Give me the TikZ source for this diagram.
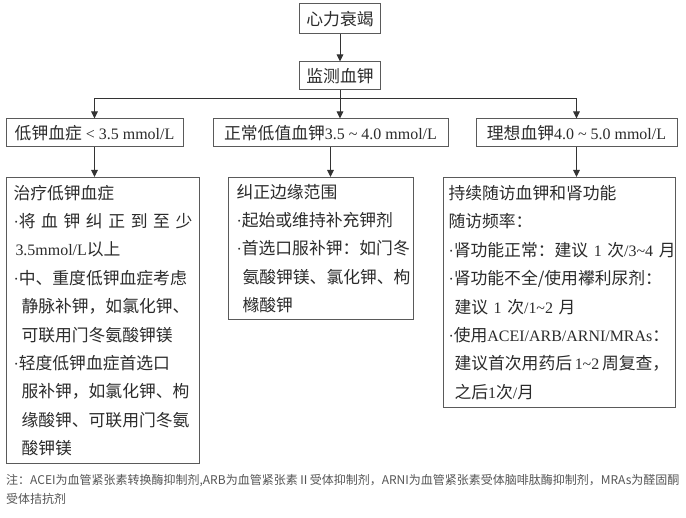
\documentclass[tikz,border=0pt]{standalone}
\usepackage{fontspec}
\setmainfont{Noto Sans CJK SC}
\newfontfamily\latfont[Scale=0.95]{Liberation Serif}
\newcommand{\lat}[1]{{\latfont #1}}
\newcommand{\bl}{{\latfont ·}}
\usetikzlibrary{arrows.meta, positioning}
\definecolor{hfline}{HTML}{333333}
\definecolor{hfbox}{HTML}{5A5A5A}
\definecolor{hftext}{HTML}{2B2B2B}
\definecolor{hfnote}{HTML}{555555}
\tikzset{
  >={Triangle[length=7pt, width=6.5pt]},
  box/.style={rectangle, draw=hfbox, line width=1pt, text=hftext,
              inner xsep=6.5pt, inner ysep=3pt, minimum height=28pt,
              font=\fontsize{16.8}{20}\selectfont},
  bigbox/.style={box, anchor=north west, align=left, inner xsep=7pt,
                 font=\fontsize{16.8}{28.4}\selectfont},
  flow/.style={->, line width=1pt, draw=hfline},
  note/.style={font=\fontsize{12}{19}\selectfont, text=hfnote, align=left, inner sep=0pt},
}

\begin{document}
\begin{tikzpicture}[x=1pt, y=-1pt]
  \path[use as bounding box, fill=white] (0,0) rectangle (686,518);

  % top of the chart
  \node[box, minimum width=80pt, minimum height=30pt] (hf) at (340,19) {心力衰竭};
  \node[box, minimum width=79pt, below=27pt of hf] (mon) {监测血钾};
  \draw[flow] (hf) -- (mon);

  % three ranges
  \node[box, minimum width=177pt] (low) at (94.5,133) {低钾血症\lat{~<~3.5~mmol/L}};
  \node[box, minimum width=235pt] (mid) at (330.5,133) {正常低值血钾\lat{3.5~\textasciitilde{}~4.0~mmol/L}};
  \node[box, minimum width=201pt] (ok) at (576.5,133) {理想血钾\lat{4.0~\textasciitilde{}~5.0~mmol/L}};
  \coordinate (split) at (340,99);
  \draw[flow] (mon.south) -- (mon.south |- mid.north);
  \draw[flow] (split) -| (low.north);
  \draw[flow] (split) -| (ok.north);

  % what to do
  \node[bigbox, text width=179pt, minimum width=193pt, minimum height=286pt] (lowdo) at (6,177)
    {治疗低钾血症\\
     \makebox[179pt][s]{\bl 将 血 钾 纠 正 到 至 少}\\
     \hspace*{2pt}\lat{3.5mmol/L}以上\\
     \bl 中、重度低钾血症考虑\\
     \hspace*{8pt}静脉补钾，如氯化钾、\\
     \hspace*{8pt}可联用门冬氨酸钾镁\\
     \bl 轻度低钾血症首选口\\
     \hspace*{8pt}服补钾，如氯化钾、枸\\
     \hspace*{8pt}缘酸钾、可联用门冬氨\\
     \hspace*{8pt}酸钾镁};
  \node[bigbox, inner xsep=8pt, text width=169pt, minimum width=185pt, minimum height=142pt] (middo) at (228,177)
    {纠正边缘范围\\
     \bl 起始或维持补充钾剂\\
     \bl 首选口服补钾：如门冬\\
     \hspace*{6pt}氨酸钾镁、氯化钾、枸\\
     \hspace*{6pt}橼酸钾};
  \node[bigbox, inner xsep=5pt, text width=222pt, minimum width=232pt, minimum height=230pt] (okdo) at (443,177)
    {持续随访血钾和肾功能\\
     随访频率：\\
     \bl 肾功能正常：建议\lat{~1~}次\lat{/3\textasciitilde4~}月\\
     \bl 肾功能不全/使用襻利尿剂：\\
     \hspace*{6pt}建议\lat{~1~}次\lat{/1\textasciitilde2~}月\\
     \bl 使用\lat{ACEI/ARB/ARNI/MRAs}：\\
     \hspace*{6pt}建议首次用药后\lat{\,1\textasciitilde2\,}周复查，\\
     \hspace*{6pt}之后\lat{1}次\lat{/}月};
  \draw[flow] (low.south) -- (low.south |- lowdo.north);
  \draw[flow] (mid.south) -- (mid.south |- middo.north);
  \draw[flow] (ok.south) -- (ok.south |- okdo.north);

  \node[note, anchor=north west] (fn) at (6,474)
    {注：ACEI为血管紧张素转换酶抑制剂,ARB为血管紧张素Ⅱ受体抑制剂，ARNI为血管紧张素受体脑啡肽酶抑制剂，MRAs为醛固酮\\受体拮抗剂};
\end{tikzpicture}
\end{document}
